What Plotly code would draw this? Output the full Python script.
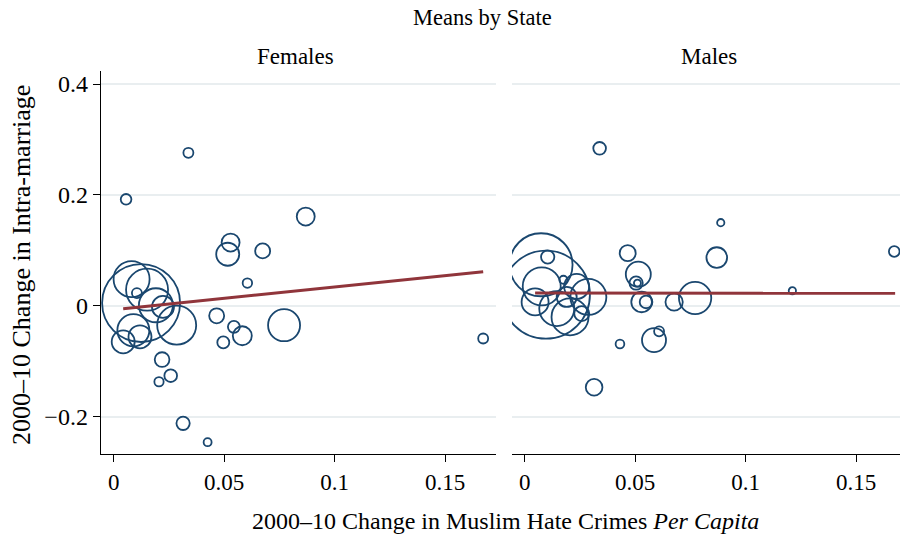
import plotly.graph_objects as go
import math

# ---------------- data ----------------
fem_x = [0.0338, 0.0056, 0.0869, 0.0529, 0.0516, 0.0674, 0.0605, 0.0466, 0.0544, 0.0582,
         0.0496, 0.0771, 0.1672, 0.0219, 0.0258, 0.0205, 0.0314, 0.0425, 0.0124, 0.0081,
         0.0105, 0.0151, 0.0191, 0.0223, 0.0285, 0.0089, 0.0043, 0.0119]
fem_y = [0.276, 0.192, 0.161, 0.114, 0.093, 0.099, 0.041, -0.018, -0.038, -0.054,
         -0.066, -0.035, -0.059, -0.097, -0.126, -0.137, -0.212, -0.246, 0.005, 0.048,
         0.023, 0.029, 0.001, -0.002, -0.035, -0.044, -0.065, -0.056]
fem_w = [1.00, 1.14, 3.24, 3.24, 5.29, 2.25, 0.90, 2.25, 1.44, 3.61,
         1.44, 10.24, 1.00, 2.16, 1.61, 0.86, 1.77, 0.64, 60.8, 12.96,
         1.00, 17.64, 11.56, 4.84, 15.21, 10.24, 5.29, 5.29]

male_x = [0.0339, 0.0887, 0.1672, 0.0466, 0.0869, 0.0514, 0.0504, 0.0510, 0.0529, 0.0549,
          0.0676, 0.0771, 0.1211, 0.0431, 0.0585, 0.0608, 0.0314, 0.0074, 0.0096, 0.0104,
          0.0077, 0.0175, 0.0235, 0.0288, 0.0047, 0.0145, 0.0205, 0.0258, 0.0190]
male_y = [0.284, 0.150, 0.098, 0.095, 0.087, 0.057, 0.041, 0.041, 0.007, 0.007,
          0.007, 0.014, 0.027, -0.069, -0.062, -0.046, -0.147, 0.074, 0.020, 0.088,
          0.035, 0.047, 0.035, 0.016, 0.007, -0.005, -0.020, -0.014, 0.016]
male_w = [1.61, 0.53, 1.14, 2.56, 4.28, 6.25, 1.77, 0.49, 4.28, 1.61,
          2.99, 10.43, 0.53, 0.76, 5.76, 1.00, 2.79, 39.69, 77.44, 1.77,
          14.44, 0.64, 6.25, 12.96, 7.29, 12.25, 13.69, 2.25, 4.00]

fem_fit_x = [0.0043, 0.1672]
fem_fit_y = [-0.0052, 0.0615]
male_fit_x = [0.0047, 0.1676]
male_fit_y = [0.0231, 0.0226]

y_ticks = [-0.2, 0, 0.2, 0.4]
y_tick_text = ["\u22120.2", "0", "0.2", "0.4"]
x_ticks = [0, 0.05, 0.1, 0.15]
x_tick_text = ["0", "0.05", "0.1", "0.15"]

# ---------------- style ----------------
NAVY = "#1a476f"
MAROON = "#90353b"
GRID = "#e9eef0"
FONT = "Liberation Serif"
W, H = 900, 537

def sizes(w):
    return [10 * math.sqrt(v) for v in w]

fig = go.Figure()
for xs, ys, ws, xa, ya in [(fem_x, fem_y, fem_w, "x", "y"), (male_x, male_y, male_w, "x2", "y2")]:
    fig.add_trace(go.Scatter(
        x=xs, y=ys, mode="markers", xaxis=xa, yaxis=ya, showlegend=False,
        marker=dict(symbol="circle-open", size=sizes(ws), sizemode="diameter", opacity=1,
                    color=NAVY, line=dict(width=1.8, color=NAVY)),
    ))
for xs, ys, xa, ya in [(fem_fit_x, fem_fit_y, "x", "y"), (male_fit_x, male_fit_y, "x2", "y2")]:
    fig.add_trace(go.Scatter(x=xs, y=ys, mode="lines", xaxis=xa, yaxis=ya, showlegend=False,
                             line=dict(color=MAROON, width=3)))

def px_x(p):
    return p / W

def px_y(p):
    return 1 - p / H

ydom = [px_y(454), px_y(71)]
yrange = [-0.2673, 0.4235]

xcommon = dict(showgrid=False, zeroline=False, showline=True, linecolor="#000", linewidth=1,
               ticks="outside", ticklen=7, tickcolor="#000", tickwidth=1,
               tickvals=x_ticks, ticktext=x_tick_text,
               tickfont=dict(family=FONT, size=23, color="#000"))
ycommon = dict(showgrid=True, gridcolor=GRID, gridwidth=1.5, zeroline=False,
               tickvals=y_ticks, ticktext=y_tick_text, range=yrange, domain=ydom)

fig.update_layout(
    width=W, height=H,
    margin=dict(l=0, r=0, t=0, b=0),
    paper_bgcolor="white", plot_bgcolor="white",
    font=dict(family=FONT, color="#000"),
    xaxis=dict(domain=[px_x(100.7), px_x(496)], range=[-0.00588, 0.1730], anchor="y", **xcommon),
    xaxis2=dict(domain=[px_x(512), 1.0], range=[-0.00575, 0.1698], anchor="y2", **xcommon),
    yaxis=dict(anchor="x", showline=True, linecolor="#000", linewidth=1,
               ticks="outside", ticklen=7, tickcolor="#000", tickwidth=1,
               tickfont=dict(family=FONT, size=24, color="#000"), **ycommon),
    yaxis2=dict(anchor="x2", showline=False, ticks="", showticklabels=False, **ycommon),
    annotations=[
        dict(text="Means by State", x=px_x(483), y=px_y(18), xref="paper", yref="paper",
             xanchor="center", yanchor="middle", showarrow=False, font=dict(family=FONT, size=22.5)),
        dict(text="Females", x=px_x(295), y=px_y(56), xref="paper", yref="paper",
             xanchor="center", yanchor="middle", showarrow=False, font=dict(family=FONT, size=23)),
        dict(text="Males", x=px_x(709), y=px_y(56), xref="paper", yref="paper",
             xanchor="center", yanchor="middle", showarrow=False, font=dict(family=FONT, size=23)),
        dict(text="2000\u201310 Change in Muslim Hate Crimes <i>Per Capita</i>", x=px_x(505), y=px_y(521),
             xref="paper", yref="paper", xanchor="center", yanchor="middle", showarrow=False,
             font=dict(family=FONT, size=24)),
        dict(text="2000\u201310 Change in Intra-marriage", x=px_x(21), y=px_y(265),
             xref="paper", yref="paper", xanchor="center", yanchor="middle", showarrow=False,
             textangle=-90, font=dict(family=FONT, size=26)),
    ],
)

fig.write_html("out.html")
